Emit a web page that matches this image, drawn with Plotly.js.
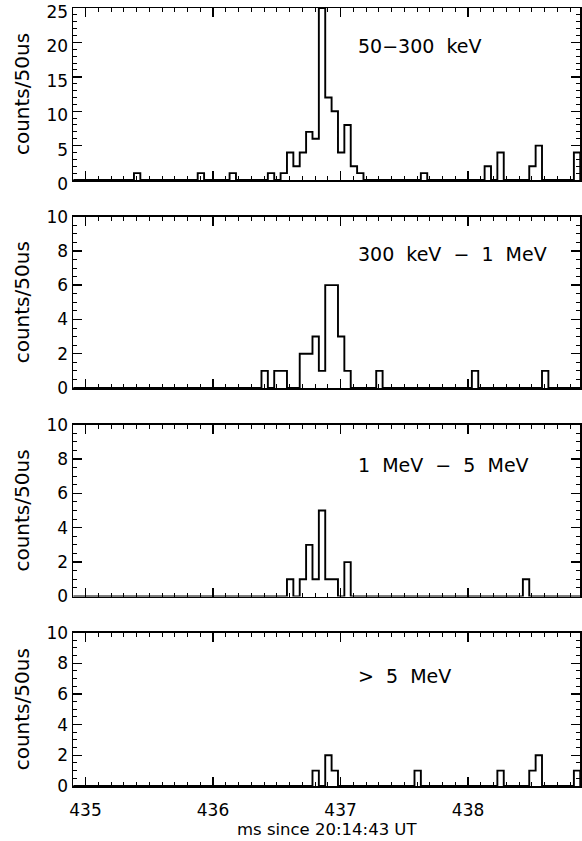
<!DOCTYPE html>
<html>
<head>
<meta charset="utf-8">
<script src="https://cdn.plot.ly/plotly-3.0.1.min.js"></script>
<style>html,body{margin:0;padding:0;background:#fff;}#chart{width:582px;height:841px;}</style>
</head>
<body>
<div id="chart"></div>
<script>
// Bin layout: 50 us bins, centers at 435.005 + 0.05*k (ms since 20:14:43 UT)
const binWidth = 0.05;
const firstCenter = 434.905;   // k = -2
const lastCenter = 438.905;    // k = 78

// Non-zero bins (bin centre in ms, counts per 50 us)
const t_50_300keV = [435.405, 435.905, 436.155, 436.455, 436.555, 436.605, 436.655, 436.705, 436.755, 436.805, 436.855, 436.905, 436.955, 437.005, 437.055, 437.105, 437.155, 437.655, 438.155, 438.255, 438.505, 438.555, 438.855];
const c_50_300keV = [1, 1, 1, 1, 1, 4, 2, 4, 7, 6, 25, 12, 10, 4, 8, 2, 1, 1, 2, 4, 2, 5, 4];

const t_300keV_1MeV = [436.405, 436.505, 436.555, 436.705, 436.755, 436.805, 436.855, 436.905, 436.955, 437.005, 437.055, 437.305, 438.055, 438.605];
const c_300keV_1MeV = [1, 1, 1, 2, 2, 3, 1, 6, 6, 3, 1, 1, 1, 1];

const t_1_5MeV = [436.605, 436.705, 436.755, 436.805, 436.855, 436.905, 436.955, 437.055, 438.455];
const c_1_5MeV = [1, 1, 3, 1, 5, 1, 1, 2, 1];

const t_gt5MeV = [436.805, 436.905, 436.955, 437.605, 438.255, 438.505, 438.555, 438.855];
const c_gt5MeV = [1, 2, 1, 1, 1, 1, 2, 1];

const panelLabels = ["50\u2212300\u00a0\u00a0keV", "300\u00a0\u00a0keV\u00a0\u00a0\u2212\u00a0\u00a01\u00a0\u00a0MeV", "1\u00a0\u00a0MeV\u00a0\u00a0\u2212\u00a0\u00a05\u00a0\u00a0MeV", ">\u00a0\u00a05\u00a0\u00a0MeV"];
const yTitle = "counts/50us";
const xTitle = "ms since 20:14:43 UT";
const yMax = [25, 10, 10, 10];
const yDtick = [5, 2, 2, 2];
const yMinor = [1, 0.5, 0.5, 0.5];
const xTickVals = [435, 436, 437, 438];
const xRange = [434.902, 438.878];

function dense(times, counts) {
  const xs = [], ys = [];
  const n = Math.round((lastCenter - firstCenter) / binWidth);
  for (let i = 0; i <= n; i++) {
    const c = +(firstCenter + i * binWidth).toFixed(3);
    xs.push(c);
    let v = 0;
    for (let j = 0; j < times.length; j++) {
      if (Math.abs(times[j] - c) < 1e-6) v = counts[j];
    }
    ys.push(v);
  }
  return {xs, ys};
}

const series = [[t_50_300keV, c_50_300keV], [t_300keV_1MeV, c_300keV_1MeV], [t_1_5MeV, c_1_5MeV], [t_gt5MeV, c_gt5MeV]];

const H = 841, mT = 8, mB = 55, mL = 73, mR = 2;
const plotH = H - mT - mB;
const plotW = 582 - mL - mR;
const panelTops = [8, 216.5, 424.5, 632.5];
const panelBots = [180, 388, 596.5, 786];
const labelY = [46, 254, 465, 676];
const font = "DejaVu Sans, sans-serif";

const traces = [];
const layout = {
  width: 582, height: 841,
  margin: {l: mL, r: mR, t: mT, b: mB},
  paper_bgcolor: "#fff", plot_bgcolor: "#fff",
  showlegend: false,
  font: {family: font, color: "#000", size: 17},
  annotations: []
};

series.forEach((s, i) => {
  const d = dense(s[0], s[1]);
  const n = i === 0 ? "" : String(i + 1);
  traces.push({
    x: d.xs, y: d.ys, type: "scatter", mode: "lines",
    line: {shape: "hvh", color: "#000", width: 1.9},
    xaxis: "x" + n, yaxis: "y" + n, hoverinfo: "x+y"
  });
  const top = panelTops[i], bot = panelBots[i];
  const dom = [(H - mB - bot) / plotH, (H - mB - top) / plotH];
  const axCommon = {
    showline: true, linecolor: "#000", linewidth: 1.5, mirror: "allticks",
    ticks: "inside", ticklen: 9, tickwidth: 1.4, tickcolor: "#000",
    showgrid: false, zeroline: false
  };
  layout["xaxis" + n] = Object.assign({}, axCommon, {
    range: xRange, anchor: "y" + n, domain: [0, 1],
    tickvals: xTickVals, ticktext: xTickVals.map(String),
    showticklabels: i === 3, ticklabelstandoff: 8,
    tickfont: {family: font, size: 17, color: "#000"},
    minor: {dtick: 0.1, tick0: 435, ticks: "inside", ticklen: 4, tickwidth: 1, tickcolor: "#000"}
  });
  layout["yaxis" + n] = Object.assign({}, axCommon, {
    range: [0, yMax[i] * 1.0004], domain: dom, anchor: "x" + n,
    dtick: yDtick[i], tick0: 0,
    ticklabeloverflow: "allow", ticklabelshift: i === 0 ? 4 : 0,
    tickfont: {family: font, size: 17, color: "#000"},
    minor: {dtick: yMinor[i], tick0: 0, ticks: "inside", ticklen: 4, tickwidth: 1, tickcolor: "#000"},
    title: {text: yTitle, font: {family: font, size: 20, color: "#000"}, standoff: 11}
  });
  layout.annotations.push({
    text: panelLabels[i], xref: "paper", yref: "paper",
    x: (356 - mL) / plotW, y: (H - mB - labelY[i]) / plotH,
    xanchor: "left", yanchor: "middle", showarrow: false,
    font: {family: font, size: 19, color: "#000"}
  });
});

// x-axis title of the bottom panel
layout.annotations.push({
  text: xTitle, xref: "paper", yref: "paper",
  x: 0.5, y: (H - mB - 830) / plotH,
  xanchor: "center", yanchor: "middle", showarrow: false,
  font: {family: font, size: 16.5, color: "#000"}
});

Plotly.newPlot("chart", traces, layout, {staticPlot: true});
</script>
</body>
</html>
